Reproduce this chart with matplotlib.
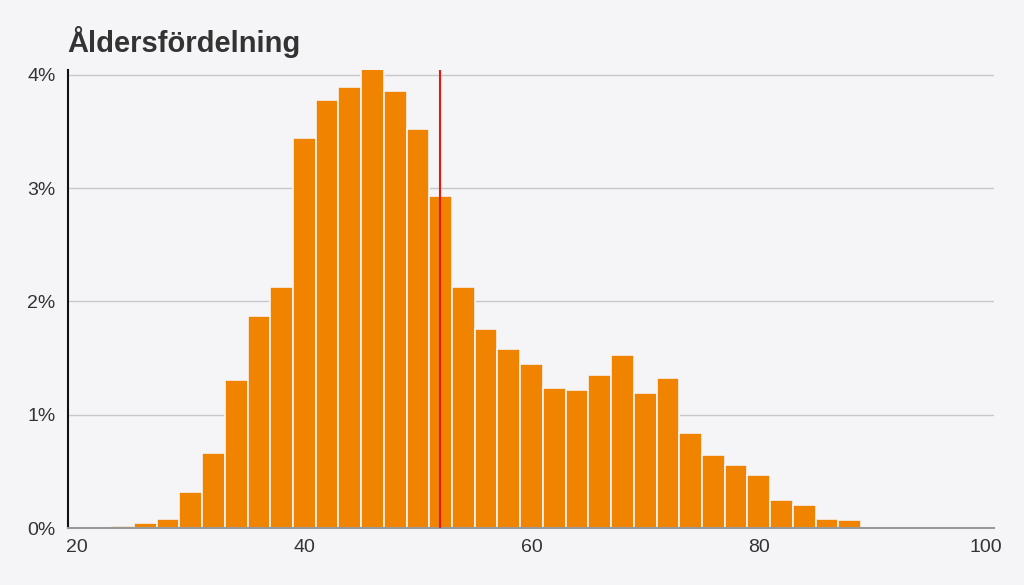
import numpy as np
import matplotlib.pyplot as plt
from matplotlib.ticker import FuncFormatter

# bin left edges (width 2) and share of people in percent
bin_starts = [23, 25, 27, 29, 31, 33, 35, 37, 39, 41, 43, 45, 47, 49, 51, 53, 55,
              57, 59, 61, 63, 65, 67, 69, 71, 73, 75, 77, 79, 81, 83, 85, 87]
shares = [0.02, 0.04, 0.08, 0.32, 0.66, 1.31, 1.87, 2.13, 3.44, 3.78, 3.89, 4.05,
          3.86, 3.52, 2.93, 2.13, 1.76, 1.58, 1.45, 1.24, 1.22, 1.35, 1.53, 1.19,
          1.32, 0.84, 0.64, 0.56, 0.47, 0.25, 0.20, 0.08, 0.07]
mean_age = 51.9
x_ticks = [20, 40, 60, 80, 100]
y_ticks = [0, 1, 2, 3, 4]

plt.rcParams['font.family'] = ['Liberation Sans', 'DejaVu Sans']

bg = '#f5f4f7'
fig = plt.figure(figsize=(10.24, 5.85), dpi=100, facecolor=bg)
ax = fig.add_axes([0.0664, 0.0974, 0.9043, 0.7826], facecolor=bg)

ax.bar(bin_starts, shares, width=2, align='edge', color='#f08400',
       edgecolor=bg, linewidth=1.2, zorder=2)
ax.axvline(mean_age, color='#e8170f', lw=1.5, zorder=3)

ax.set_xlim(19.2, 100.7)
ax.set_ylim(0, 4.04)
ax.set_xticks(x_ticks)
ax.set_yticks(y_ticks)
ax.yaxis.set_major_formatter(FuncFormatter(lambda v, p: f'{v:.0f}%'))
ax.tick_params(length=0, labelsize=14, colors='#333333', pad=9)
ax.tick_params(axis='x', pad=8)

ax.grid(axis='y', color='#c8c8cc', lw=1, zorder=0)
for s in ['top', 'right']:
    ax.spines[s].set_visible(False)
ax.spines['left'].set_color('#111111')
ax.spines['left'].set_linewidth(1.5)
ax.spines['bottom'].set_color('#999999')
ax.spines['bottom'].set_linewidth(1.5)

fig.text(0.066, 0.928, 'Åldersfördelning', fontsize=21, fontweight='bold',
         color='#333333', ha='left', va='center')

fig.savefig('out.png', dpi=100, facecolor=bg)
